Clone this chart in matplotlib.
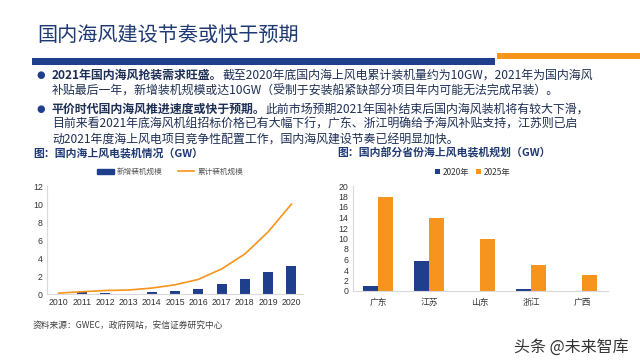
#!/usr/bin/env python3
"""Slide: domestic offshore wind build-out pace (two charts + bullet text)."""

import matplotlib

matplotlib.use("Agg")
import matplotlib.pyplot as plt
from matplotlib.lines import Line2D
from matplotlib.patches import Patch, Rectangle

plt.rcParams["font.family"] = ["Noto Sans CJK SC", "DejaVu Sans"]

# ---- data ----
years = ["2010", "2011", "2012", "2013", "2014", "2015", "2016", "2017", "2018", "2019", "2020"]
new_gw = [0.05, 0.2, 0.13, 0.04, 0.22, 0.36, 0.59, 1.16, 1.66, 2.45, 3.06]
cum_gw = [0.1, 0.25, 0.39, 0.44, 0.66, 1.02, 1.62, 2.78, 4.44, 6.9, 9.98]

provinces = ["广东", "江苏", "山东", "浙江", "广西"]
plan_2020 = [1.0, 5.7, 0.0, 0.4, 0.0]
plan_2025 = [18, 14, 10, 5, 3]

title = "国内海风建设节奏或快于预期"
bullets = [
    ("2021年国内海风抢装需求旺盛。",
     ["截至2020年底国内海上风电累计装机量约为10GW，2021年为国内海风",
      "补贴最后一年，新增装机规模或达10GW（受制于安装船紧缺部分项目年内可能无法完成吊装）。"]),
    ("平价时代国内海风推进速度或快于预期。",
     ["此前市场预期2021年国补结束后国内海风装机将有较大下滑，",
      "目前来看2021年底海风机组招标价格已有大幅下行，广东、浙江明确给予海风补贴支持，江苏则已启",
      "动2021年度海上风电项目竞争性配置工作，国内海风建设节奏已经明显加快。"]),
]
left_title = "图：国内海上风电装机情况（GW）"
right_title = "图：国内部分省份海上风电装机规划（GW）"
source = "资料来源：GWEC，政府网站，安信证券研究中心"
watermark = "头条 @未来智库"

NAVY = "#1F3F8C"
ORANGE = "#F7941D"
TEXT = "#1E2F55"
GRAY = "#595959"
AXIS = "#D9D9D9"

W, H = 640, 360
fig = plt.figure(figsize=(6.4, 3.6), dpi=100)
fig.patch.set_facecolor("white")


def fx(x):
    return x / W


def fy(y):
    return 1 - y / H


def px_axes(left, top, right, bottom):
    return fig.add_axes([fx(left), fy(bottom), (right - left) / W, (bottom - top) / H])


# ---- header ----
fig.text(fx(37), fy(36), title, fontsize=14.5, color="#1F3A73", va="center", ha="left")
fig.patches.append(Rectangle((fx(32), fy(65)), (495 - 32) / W, 7 / H,
                             transform=fig.transFigure, color=NAVY, lw=0))
fig.patches.append(Rectangle((fx(497), fy(59)), (640 - 497) / W, 6 / H,
                             transform=fig.transFigure, color=ORANGE, lw=0))

# ---- bullet paragraphs ----
renderer = fig.canvas.get_renderer()
line_y = [[75, 91], [109, 124.5, 140]]
for (head, rest), ys in zip(bullets, line_y):
    fig.text(fx(40.5), fy(ys[0]), "●", fontsize=7, color=NAVY, va="center", ha="center",
             family=["DejaVu Sans"])
    t = fig.text(fx(52), fy(ys[0]), head, fontsize=8.6, color=TEXT, weight="bold",
                 va="center", ha="left")
    bb = t.get_window_extent(renderer)
    fig.text(bb.x1 / W, fy(ys[0]), rest[0], fontsize=8.6, color=TEXT, va="center", ha="left")
    for txt, y in zip(rest[1:], ys[1:]):
        fig.text(fx(52), fy(y), txt, fontsize=8.6, color=TEXT, va="center", ha="left")

# ---- chart titles ----
fig.text(fx(33), fy(153), left_title, fontsize=7.8, weight="bold", color="#1F3A73",
         va="center", ha="left")
fig.text(fx(337), fy(153), right_title, fontsize=7.8, weight="bold", color="#1F3A73",
         va="center", ha="left")


def style_axes(ax):
    for side in ("top", "right"):
        ax.spines[side].set_visible(False)
    for side in ("left", "bottom"):
        ax.spines[side].set_color(AXIS)
        ax.spines[side].set_linewidth(0.8)
    ax.tick_params(length=0, labelsize=6.3, colors="#333333", pad=3)
    for lab in ax.get_yticklabels():
        lab.set_family(["Liberation Sans"])


# ---- left chart ----
ax1 = px_axes(47, 186, 303, 294)
x1 = list(range(len(years)))
ax1.bar(x1, new_gw, width=0.43, color=NAVY, zorder=2)
ax1.plot(x1, cum_gw, color=ORANGE, lw=1.2, zorder=3)
ax1.set_xlim(-0.5, len(years) - 0.5)
ax1.set_ylim(0, 12)
ax1.set_yticks(range(0, 13, 2))
ax1.set_xticks(x1)
ax1.set_xticklabels(years, family=["Liberation Sans"])
style_axes(ax1)
ax1.legend(handles=[Patch(color=NAVY), Line2D([0], [0], color=ORANGE, lw=1.2)],
           labels=["新增装机规模", "累计装机规模"], loc="center",
           bbox_to_anchor=(fx(170), fy(172)), bbox_transform=fig.transFigure,
           ncol=2, frameon=False, fontsize=5.5, labelcolor=GRAY,
           handlelength=2.2, handleheight=0.6, columnspacing=2.0, handletextpad=0.4)

# ---- right chart ----
ax2 = px_axes(352.5, 186, 607.5, 291)
x2 = list(range(len(provinces)))
bw = 0.285
ax2.bar([i - bw / 2 for i in x2], plan_2020, width=bw, color=NAVY, label="2020年", zorder=2)
ax2.bar([i + bw / 2 for i in x2], plan_2025, width=bw, color=ORANGE, label="2025年", zorder=2)
ax2.set_xlim(-0.5, len(provinces) - 0.5)
ax2.set_ylim(0, 20)
ax2.set_yticks(range(0, 21, 2))
ax2.set_xticks(x2)
ax2.set_xticklabels(provinces, color=GRAY)
style_axes(ax2)
ax2.tick_params(axis="x", pad=5)
ax2.legend(loc="center", bbox_to_anchor=(fx(473), fy(172)), bbox_transform=fig.transFigure,
           ncol=2, frameon=False, fontsize=6, labelcolor="#333333",
           handlelength=0.6, handleheight=0.6, columnspacing=0.8, handletextpad=0.3)

# ---- footer ----
fig.text(fx(33), fy(325), source, fontsize=6.3, color="#404040", va="center", ha="left")
fig.text(fx(629), fy(347), watermark, fontsize=11.5, color="#333333", va="center", ha="right")

fig.savefig("out.png", dpi=100, facecolor="white")
